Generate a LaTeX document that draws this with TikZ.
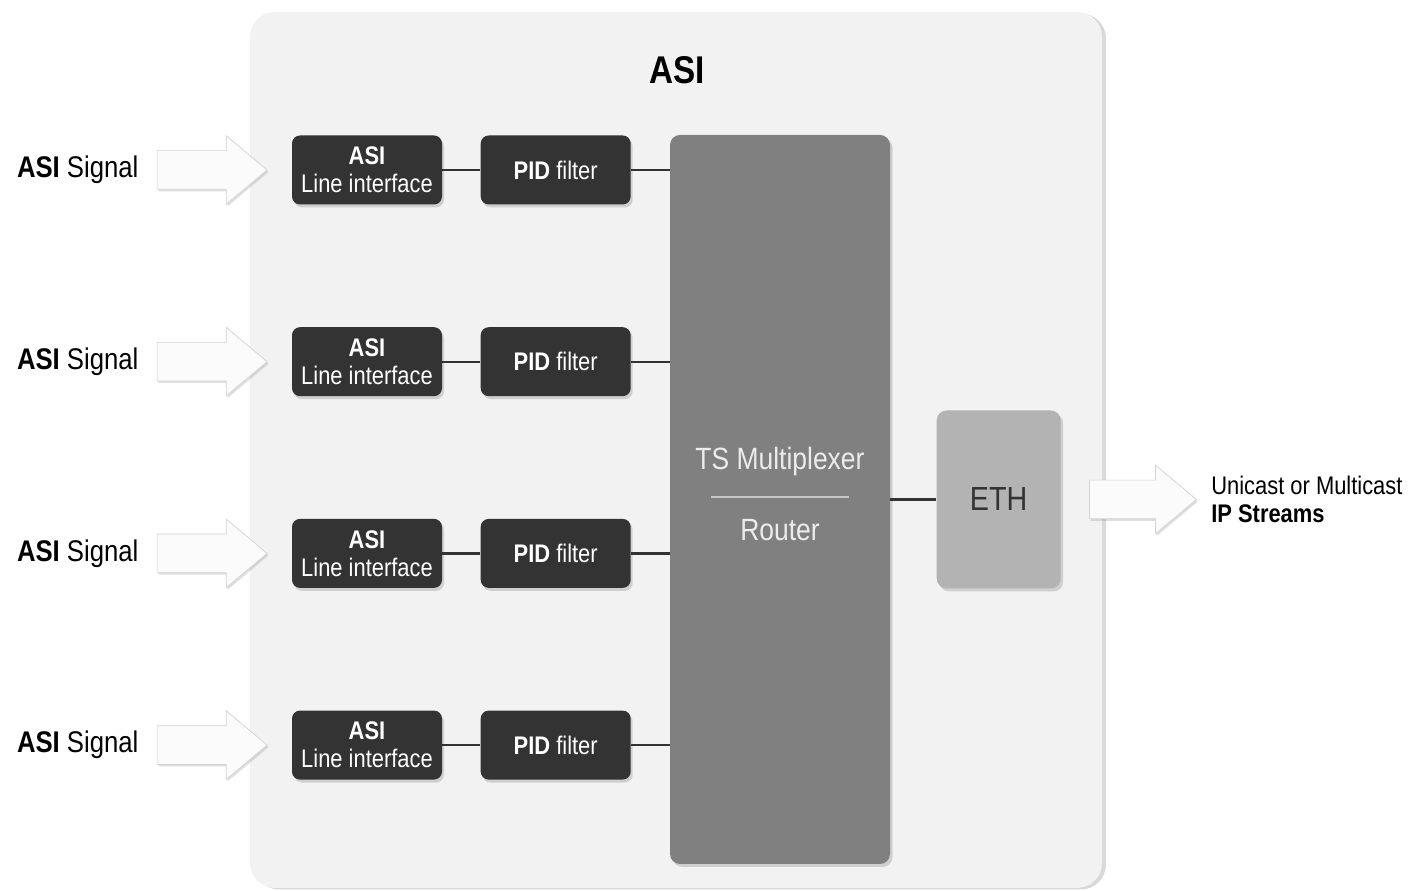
\documentclass[tikz,border=0pt]{standalone}
\usepackage{fontspec}
\setmainfont{Liberation Sans}[FakeStretch=0.86]
\usepackage{xcolor}
\usetikzlibrary{shapes,arrows,positioning,shadows}
\definecolor{panelgray}{HTML}{F2F2F2}
\definecolor{boxdark}{HTML}{333333}
\definecolor{muxgray}{HTML}{808080}
\definecolor{ethgray}{HTML}{B3B3B3}

\begin{document}
\begin{tikzpicture}[
        font=\fontsize{14.5}{16}\selectfont,
        panel/.style={rectangle, rounded corners=0.5cm, fill=panelgray, minimum width=17.04cm, minimum height=17.52cm, drop shadow={shadow xshift=0.08cm, shadow yshift=-0.03cm, opacity=0.3}},
        linebox/.style={rectangle, rounded corners=0.16cm, fill=boxdark, text=white, minimum width=3cm, minimum height=1.38cm, align=center, inner sep=0pt, drop shadow={shadow xshift=0.04cm, shadow yshift=-0.06cm, opacity=0.3}},
        mux/.style={rectangle, rounded corners=0.2cm, fill=muxgray, minimum width=4.4cm, minimum height=14.58cm, drop shadow={shadow xshift=0.05cm, shadow yshift=-0.06cm, opacity=0.3}},
        muxtext/.style={text=gray!15, font=\fontsize{17.5}{19}\selectfont, inner sep=0pt},
        eth/.style={rectangle, rounded corners=0.2cm, fill=ethgray, text=boxdark, minimum width=2.48cm, minimum height=3.56cm, font=\fontsize{19}{20}\selectfont, drop shadow={shadow xshift=0.05cm, shadow yshift=-0.06cm, opacity=0.3}},
        sigarrow/.style={single arrow, fill=gray!3, draw=gray!35, line width=0.4pt, inner xsep=0pt, inner ysep=0.38cm, single arrow head extend=0.3cm, single arrow tip angle=80, minimum height=2.2cm, drop shadow={shadow xshift=0.03cm, shadow yshift=-0.04cm, opacity=0.25}},
        siglabel/.style={font=\fontsize{17}{18}\selectfont, inner sep=0pt},
        wire/.style={draw=boxdark, line width=1.3pt}
    ]
        \useasboundingbox (0,0) rectangle (28.36,17.82);
        \node[panel] (asi) at (13.52,8.82) {};
        \node[font=\fontsize{22}{24}\selectfont\bfseries] (title) at (13.54,16.42) {ASI};

        \node[linebox] (li1) at (7.34,14.42) {\textbf{ASI}\\Line interface};
        \node[linebox, below=2.44cm of li1] (li2) {\textbf{ASI}\\Line interface};
        \node[linebox, below=2.44cm of li2] (li3) {\textbf{ASI}\\Line interface};
        \node[linebox, below=2.44cm of li3] (li4) {\textbf{ASI}\\Line interface};
        \node[linebox, right=0.76cm of li1] (pid1) {\textbf{PID} filter};
        \node[linebox, right=0.76cm of li2] (pid2) {\textbf{PID} filter};
        \node[linebox, right=0.76cm of li3] (pid3) {\textbf{PID} filter};
        \node[linebox, right=0.76cm of li4] (pid4) {\textbf{PID} filter};

        \node[mux] (mux) at (15.6,7.83) {};
        \node[muxtext] (tsm) at (15.6,8.58) {TS Multiplexer};
        \node[muxtext] (router) at (15.6,7.22) {Router};
        \draw[draw=gray!45, line width=1.2pt] ([xshift=-1.38cm]15.6,7.88) -- ([xshift=1.38cm]15.6,7.88);
        \node[eth, right=0.92cm of mux] (eth) {ETH};

        \node[sigarrow, left=0.48cm of li1] (a1) {};
        \node[sigarrow, left=0.48cm of li2] (a2) {};
        \node[sigarrow, left=0.48cm of li3] (a3) {};
        \node[sigarrow, left=0.48cm of li4] (a4) {};
        \node[siglabel, left=0.36cm of a1] (s1) {\textbf{ASI} Signal};
        \node[siglabel, left=0.36cm of a2] (s2) {\textbf{ASI} Signal};
        \node[siglabel, left=0.36cm of a3] (s3) {\textbf{ASI} Signal};
        \node[siglabel, left=0.36cm of a4] (s4) {\textbf{ASI} Signal};

        \node[sigarrow, minimum height=2.14cm, right=0.56cm of eth] (out) {};
        \node[right=0.28cm of out, align=left, inner sep=0pt] (ipout) {Unicast or Multicast\\\textbf{IP Streams}};

        \draw[wire] (li1) -- (pid1);
        \draw[wire] (li2) -- (pid2);
        \draw[wire] (li3) -- (pid3);
        \draw[wire] (li4) -- (pid4);
        \draw[wire] (pid1.east) -- (pid1.east -| mux.west);
        \draw[wire] (pid2.east) -- (pid2.east -| mux.west);
        \draw[wire] (pid3.east) -- (pid3.east -| mux.west);
        \draw[wire] (pid4.east) -- (pid4.east -| mux.west);
        \draw[wire] (eth.west -| mux.east) -- (eth.west);
    \end{tikzpicture}
\end{document}
